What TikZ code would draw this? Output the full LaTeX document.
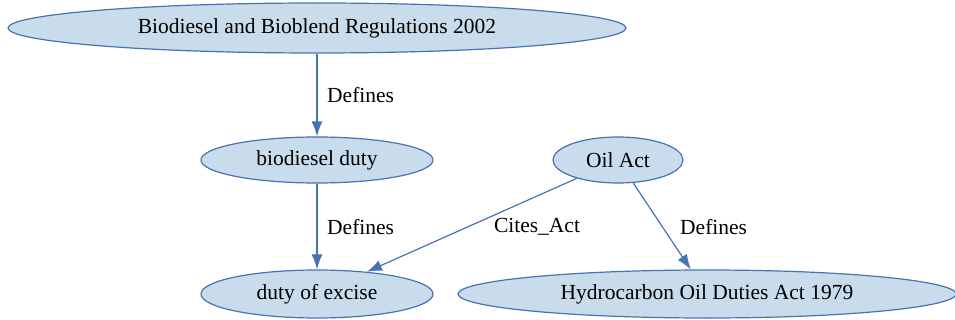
\documentclass[tikz,border=0pt]{standalone}
\usepackage{fontspec}
\setmainfont{Liberation Serif}
\usetikzlibrary{shapes.geometric,arrows.meta}
\definecolor{nodefill}{RGB}{200,220,235}
\definecolor{nodeline}{RGB}{70,115,180}
\tikzset{
  ent/.style={ellipse, draw=nodeline, fill=nodefill, line width=1.2pt, inner sep=0pt, font=\fontsize{21.5}{24}\selectfont},
  edge/.style={draw=nodeline, line width=1.2pt, -{Latex[length=15pt,width=11pt]}},
  elabel/.style={font=\fontsize{21.5}{24}\selectfont, inner sep=0pt}
}
\begin{document}
\begin{tikzpicture}[x=1pt,y=-1pt]
\useasboundingbox (0,0) rectangle (955,320);
\node[ent, minimum width=618pt, minimum height=50pt] (top) at (317,28) {Biodiesel and Bioblend Regulations 2002};
\node[ent, minimum width=232pt, minimum height=46pt] (bd) at (317,160) {biodiesel duty};
\node[ent, minimum width=130pt, minimum height=46pt] (oil) at (618,160) {Oil Act};
\node[ent, minimum width=232pt, minimum height=48pt] (exc) at (317,294) {duty of excise};
\node[ent, minimum width=498pt, minimum height=48pt] (hyd) at (707,294) {Hydrocarbon Oil Duties Act 1979};
\draw[edge] (top.south) -- (bd.north);
\draw[edge] (bd.south) -- (exc.north);
\draw[edge] (oil) -- (exc);
\draw[edge] (oil) -- (hyd);
\node[elabel, anchor=west] (l1) at (327,95) {Defines};
\node[elabel, anchor=west] (l2) at (327,227) {Defines};
\node[elabel] (l3) at (537,227) {Cites\_Act};
\node[elabel, anchor=west] (l4) at (680,227) {Defines};
\end{tikzpicture}
\end{document}
